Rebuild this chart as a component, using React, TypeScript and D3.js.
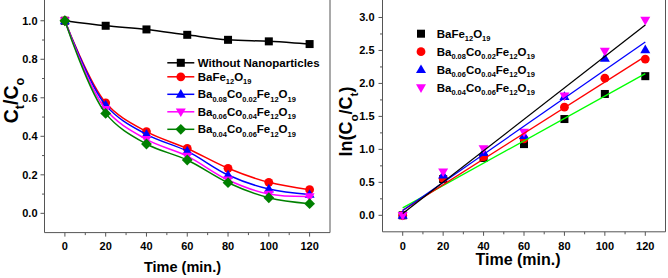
import React from 'react';
import * as d3 from 'd3';

// ---------- data ----------
const times = [0, 20, 40, 60, 80, 100, 120];

const leftLabels = [
  'Without Nanoparticles',
  'BaFe12O19',
  'Ba0.08Co0.02Fe12O19',
  'Ba0.06Co0.04Fe12O19',
  'Ba0.04Co0.06Fe12O19',
];
const withoutNP = [1.0, 0.974, 0.955, 0.927, 0.901, 0.893, 0.879];
const ctBaFe = [1.0, 0.574, 0.424, 0.337, 0.234, 0.161, 0.123];
const ctBa08 = [1.0, 0.562, 0.41, 0.323, 0.199, 0.126, 0.098];
const ctBa06 = [1.0, 0.54, 0.384, 0.297, 0.173, 0.1, 0.087];
const ctBa04 = [1.0, 0.519, 0.36, 0.277, 0.159, 0.081, 0.05];
const leftSeries = [withoutNP, ctBaFe, ctBa08, ctBa06, ctBa04];
const leftColors = ['#000000', '#ff0000', '#0000ff', '#ff00ff', '#008000'];
const leftShapes = ['square', 'circle', 'triangle', 'down', 'diamond'];

const rightLabels = [
  'BaFe12O19',
  'Ba0.08Co0.02Fe12O19',
  'Ba0.06Co0.04Fe12O19',
  'Ba0.04Co0.06Fe12O19',
];
const lnBaFe = [0, 0.55, 0.87, 1.08, 1.46, 1.84, 2.11];
const lnBa08 = [0, 0.56, 0.89, 1.16, 1.64, 2.08, 2.37];
const lnBa06 = [0, 0.61, 0.95, 1.21, 1.8, 2.38, 2.51];
const lnBa04 = [0, 0.66, 1.01, 1.26, 1.81, 2.49, 2.96];
const rightSeries = [lnBaFe, lnBa08, lnBa06, lnBa04];
const rightColors = ['#000000', '#ff0000', '#0000ff', '#ff00ff'];
const rightShapes = ['square', 'circle', 'triangle', 'down'];
const fitColors = ['#00ff00', '#ff0000', '#0000ff', '#000000'];

const xTicks = [0, 20, 40, 60, 80, 100, 120];
const xMinor = [10, 30, 50, 70, 90, 110];
const leftYTicks = [0, 0.2, 0.4, 0.6, 0.8, 1.0];
const leftYMinor = [0.1, 0.3, 0.5, 0.7, 0.9];
const rightYTicks = [0, 0.5, 1.0, 1.5, 2.0, 2.5, 3.0];
const rightYMinor = [0.25, 0.75, 1.25, 1.75, 2.25, 2.75];

const xTitle = 'Time (min.)';
const leftYLabel: [string, boolean][] = [['C', false], ['t', true], ['/', false], ['C', false], ['o', true]];
const rightYLabel: [string, boolean][] = [['ln(C', false], ['o', true], ['/C', false], ['t', true], [')', false]];

// ---------- helpers ----------
const FONT = 'Arial, "Liberation Sans", sans-serif';
const AXIS = '#555555';

function Marker({ shape, x, y, color, s = 1 }: { shape: string; x: number; y: number; color: string; s?: number }) {
  if (shape === 'square') return <rect x={x - 4 * s} y={y - 4 * s} width={8 * s} height={8 * s} fill={color} />;
  if (shape === 'circle') return <circle cx={x} cy={y} r={4.4 * s} fill={color} />;
  if (shape === 'triangle')
    return <path d={`M${x},${y - 5.3 * s}L${x + 5 * s},${y + 3.4 * s}L${x - 5 * s},${y + 3.4 * s}Z`} fill={color} />;
  if (shape === 'down')
    return <path d={`M${x},${y + 5.3 * s}L${x + 5 * s},${y - 3.4 * s}L${x - 5 * s},${y - 3.4 * s}Z`} fill={color} />;
  return <path d={`M${x},${y - 5.4 * s}L${x + 5.4 * s},${y}L${x},${y + 5.4 * s}L${x - 5.4 * s},${y}Z`} fill={color} />;
}

function toSegments(t: string): [string, boolean][] {
  const parts = t.match(/[0-9.]+|[^0-9.]+/g) || [];
  return parts.map((p) => [p, /^[0-9.]+$/.test(p)] as [string, boolean]);
}

function RichText({ segs, x, y, size, anchor = 'start', transform }: any) {
  let cur = 0;
  const subOff = size * 0.32;
  return (
    <text x={x} y={y} fontSize={size} fontWeight="bold" fontFamily={FONT} textAnchor={anchor} transform={transform} fill="#000">
      {segs.map(([s, sub]: [string, boolean], i: number) => {
        const target = sub ? subOff : 0;
        const dy = target - cur;
        cur = target;
        return (
          <tspan key={i} dy={dy} fontSize={sub ? size * 0.65 : size}>
            {s}
          </tspan>
        );
      })}
    </text>
  );
}

function leastSquares(xs: number[], ys: number[]) {
  const mx = d3.mean(xs) as number;
  const my = d3.mean(ys) as number;
  const sxy = d3.sum(xs, (x, i) => (x - mx) * (ys[i] - my));
  const sxx = d3.sum(xs, (x) => (x - mx) * (x - mx));
  const b = sxy / sxx;
  return { a: my - b * mx, b };
}

// ---------- panels ----------
function LeftPanel() {
  const x = d3.scaleLinear().domain([-10, 130]).range([44.5, 330]);
  const y = d3.scaleLinear().domain([-0.1, 1.1]).range([232.6, 1.5]);
  const x0 = 44.5, x1 = 330, yb = 232.6;
  const line = d3
    .line<number>()
    .x((_, i) => x(times[i]))
    .y((d) => y(d))
    .curve(d3.curveCatmullRom.alpha(0.5));
  const legendBase = (i: number) => 66.6 + (i > 0 ? 14 + (i - 1) * 17.5 : 0);
  return (
    <g>
      {/* frame */}
      <g stroke={AXIS} strokeWidth={1} fill="none">
        <line x1={x0} x2={x0} y1={0} y2={yb} />
        <line x1={x1} x2={x1} y1={0} y2={yb} />
        <line x1={x0} x2={x1} y1={yb} y2={yb} />
        {xTicks.map((t) => (
          <line key={'xt' + t} x1={x(t)} x2={x(t)} y1={yb} y2={yb + 4} />
        ))}
        {xMinor.map((t) => (
          <line key={'xm' + t} x1={x(t)} x2={x(t)} y1={yb} y2={yb + 2.5} />
        ))}
        {leftYTicks.map((t) => (
          <line key={'yt' + t} x1={x0 - 4} x2={x0} y1={y(t)} y2={y(t)} />
        ))}
        {leftYMinor.map((t) => (
          <line key={'ym' + t} x1={x0 - 2.5} x2={x0} y1={y(t)} y2={y(t)} />
        ))}
      </g>
      {xTicks.map((t) => (
        <text key={'xl' + t} x={x(t)} y={249.5} fontSize={11} fontWeight="bold" fontFamily={FONT} textAnchor="middle">
          {t}
        </text>
      ))}
      {leftYTicks.map((t) => (
        <text key={'yl' + t} x={37.5} y={y(t) + 4} fontSize={11} fontWeight="bold" fontFamily={FONT} textAnchor="end">
          {t.toFixed(1)}
        </text>
      ))}
      <text x={182.5} y={271.5} fontSize={14.5} fontWeight="bold" fontFamily={FONT} textAnchor="middle">
        {xTitle}
      </text>
      <RichText segs={leftYLabel} x={0} y={0} size={19.5} anchor="middle" transform="translate(17.5,100.5) rotate(-90)" />
      {/* series */}
      {leftSeries.map((s, k) => (
        <g key={'s' + k}>
          <path d={line(s) || ''} fill="none" stroke={leftColors[k]} strokeWidth={1.5} />
          {s.map((v, i) => (
            <Marker key={i} shape={leftShapes[k]} x={x(times[i])} y={y(v)} color={leftColors[k]} />
          ))}
        </g>
      ))}
      {/* legend */}
      {leftLabels.map((lab, k) => {
        const by = legendBase(k);
        const my = by - 3.8;
        return (
          <g key={'lg' + k}>
            <line x1={167.3} x2={194.3} y1={my} y2={my} stroke={leftColors[k]} strokeWidth={1.5} />
            <Marker shape={leftShapes[k]} x={180.8} y={my} color={leftColors[k]} />
            <RichText segs={toSegments(lab)} x={197.7} y={by} size={11.5} />
          </g>
        );
      })}
    </g>
  );
}

function RightPanel() {
  const x = d3.scaleLinear().domain([-10, 130]).range([382.5, 665.5]);
  const y = d3.scaleLinear().domain([-0.25, 3.25]).range([231.8, 1]);
  const x0 = 382.5, x1 = 665.5, yb = 231.8;
  return (
    <g>
      <g stroke={AXIS} strokeWidth={1} fill="none">
        <line x1={x0} x2={x0} y1={0} y2={yb} />
        <line x1={x1} x2={x1} y1={0} y2={yb} />
        <line x1={x0} x2={x1} y1={yb} y2={yb} />
        {xTicks.map((t) => (
          <line key={'xt' + t} x1={x(t)} x2={x(t)} y1={yb} y2={yb + 4} />
        ))}
        {xMinor.map((t) => (
          <line key={'xm' + t} x1={x(t)} x2={x(t)} y1={yb} y2={yb + 2.5} />
        ))}
        {rightYTicks.map((t) => (
          <line key={'yt' + t} x1={x0 - 4} x2={x0} y1={y(t)} y2={y(t)} />
        ))}
        {rightYMinor.map((t) => (
          <line key={'ym' + t} x1={x0 - 2.5} x2={x0} y1={y(t)} y2={y(t)} />
        ))}
      </g>
      {xTicks.map((t) => (
        <text key={'xl' + t} x={x(t)} y={249.5} fontSize={11} fontWeight="bold" fontFamily={FONT} textAnchor="middle">
          {t}
        </text>
      ))}
      {rightYTicks.map((t) => (
        <text key={'yl' + t} x={374.5} y={y(t) + 4} fontSize={11} fontWeight="bold" fontFamily={FONT} textAnchor="end">
          {t.toFixed(1)}
        </text>
      ))}
      <text x={518} y={265} fontSize={16} fontWeight="bold" fontFamily={FONT} textAnchor="middle">
        {xTitle}
      </text>
      <RichText segs={rightYLabel} x={0} y={0} size={18} anchor="middle" transform="translate(352,121.5) rotate(-90)" />
      {rightSeries.map((s, k) => (
        <g key={'m' + k}>
          {s.map((v, i) => (
            <Marker key={i} shape={rightShapes[k]} x={x(times[i])} y={y(v)} color={rightColors[k]} />
          ))}
        </g>
      ))}
      {rightSeries.map((s, k) => {
        const { a, b } = leastSquares(times, s);
        const t0 = times[0];
        const t1 = times[times.length - 1];
        return (
          <line
            key={'f' + k}
            x1={x(t0)}
            y1={y(a + b * t0)}
            x2={x(t1)}
            y2={y(a + b * t1)}
            stroke={fitColors[k]}
            strokeWidth={1.3}
          />
        );
      })}
      {rightLabels.map((lab, k) => {
        const by = 37.7 + k * 18;
        return (
          <g key={'rl' + k}>
            <Marker shape={rightShapes[k]} x={421} y={by - 4} color={rightColors[k]} />
            <RichText segs={toSegments(lab)} x={436.7} y={by} size={11.5} />
          </g>
        );
      })}
    </g>
  );
}

export default function App() {
  return (
    <div style={{ position: 'absolute', left: 0, top: 0 }}>
      <svg width={668} height={278} style={{ display: 'block', background: '#fff' }}>
        <rect width={668} height={278} fill="#fff" />
        <LeftPanel />
        <RightPanel />
      </svg>
    </div>
  );
}
